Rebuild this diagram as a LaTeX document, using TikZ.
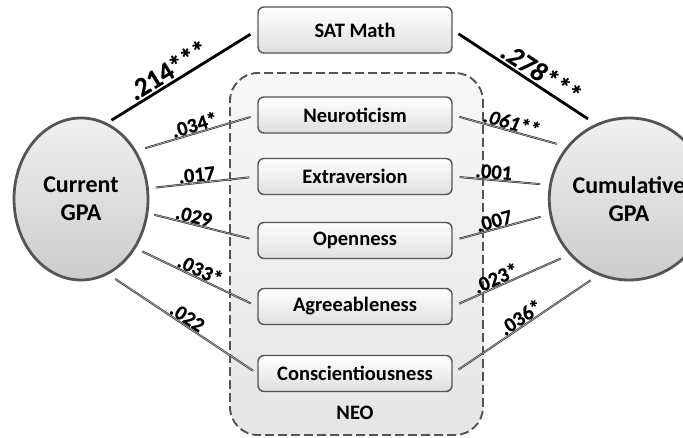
\documentclass[tikz,border=0pt]{standalone}
\usepackage{fontspec}
\setmainfont{Carlito}
\newfontfamily\labfont{Carlito}[BoldFeatures={FakeBold=0.6}, BoldItalicFeatures={FakeBold=0.6}]
\usetikzlibrary{shapes.geometric}
\definecolor{edgegray}{gray}{0.33}
\definecolor{linegray}{gray}{0.22}
\tikzset{
  varbox/.style={draw=edgegray, line width=1.4pt, rounded corners=6pt,
    top color=white, bottom color=gray!25, minimum width=194pt,
    minimum height=36pt, inner sep=0pt, font=\bfseries\fontsize{20.5}{22}\selectfont},
  gpa/.style={ellipse, draw=edgegray, line width=2.8pt, top color=gray!12,
    bottom color=gray!40, minimum width=134pt, minimum height=162pt, inner sep=0pt,
    align=center, font=\bfseries\fontsize{24}{28}\selectfont},
  neobox/.style={draw=edgegray, line width=1.9pt, dash pattern=on 9pt off 4pt,
    rounded corners=28pt, top color=gray!6, bottom color=gray!20,
    minimum width=253pt, minimum height=362pt, inner sep=0pt},
  thinpath/.style={draw=linegray, line width=0.7pt, double=gray!60, double distance=0.6pt},
  thickpath/.style={draw=black, line width=2.8pt},
  smalllab/.style={font=\labfont\bfseries\fontsize{20.5}{22}\selectfont, sloped, above, inner sep=1pt},
  biglab/.style={font=\labfont\bfseries\fontsize{27}{29}\selectfont, sloped, above, inner sep=2pt},
}
\begin{document}
\begin{tikzpicture}[x=1pt,y=-1pt]
\useasboundingbox (0,0) rectangle (683,438);
\clip (0,0) rectangle (683,438);
% NEO group
\node[neobox] (neo) at (356.5,254) {};
\node[font=\bfseries\fontsize{20.5}{22}\selectfont] (neolab) at (355,413) {NEO};
% variables
\node[varbox, minimum height=46pt] (sat) at (355,30) {SAT Math};
\node[varbox] (neu) at (355,115) {Neuroticism};
\node[varbox] (ext) at (355,176.5) {Extraversion};
\node[varbox] (ope) at (355,240.5) {Openness};
\node[varbox] (agr) at (355,306.5) {Agreeableness};
\node[varbox] (con) at (355,373.5) {Conscientiousness};
% GPA ellipses
\node[gpa] (cur) at (81,199) {Current\\GPA};
\node[gpa] (cum) at (629,199) {Cumulative\\GPA};
% thick paths
\draw[thickpath, shorten <=5pt, shorten >=8pt] (cur.71) -- node[biglab, pos=0.45] {.214***} (sat.west);
\draw[thickpath, shorten <=7pt, shorten >=9pt] (sat.east) -- node[biglab, pos=0.57] {\itshape .278***} (cum.114);
% left thin paths
\draw[thinpath, shorten <=9pt, shorten >=7pt] (cur.41) -- node[smalllab, pos=0.5] {.034*} (neu.west);
\draw[thinpath, shorten <=7pt, shorten >=8pt] (cur.9) -- node[smalllab, pos=0.45] {.017} (ext.west);
\draw[thinpath, shorten <=6pt, shorten >=8pt] (cur.-12) -- node[smalllab, pos=0.4] {.029} (ope.west);
\draw[thinpath, shorten <=7pt, shorten >=7pt] (cur.-42) -- node[smalllab, pos=0.5] {.033*} (agr.west);
\draw[thinpath, shorten <=8pt, shorten >=5pt] (cur.-70) -- node[smalllab, pos=0.5] {.022} (con.west);
% right thin paths
\draw[thinpath, shorten <=7pt, shorten >=10pt] (neu.east) -- node[smalllab, pos=0.5] {\itshape .061**} (cum.140);
\draw[thinpath, shorten <=7pt, shorten >=9pt] (ext.east) -- node[smalllab, pos=0.42] {.001} (cum.170);
\draw[thinpath, shorten <=7pt, shorten >=9pt] (ope.east) -- node[smalllab, pos=0.45] {.007} (cum.191);
\draw[thinpath, shorten <=7pt, shorten >=9pt] (agr.east) -- node[smalllab, pos=0.4] {.023*} (cum.223);
\draw[thinpath, shorten <=7pt, shorten >=9pt] (con.east) -- node[smalllab, pos=0.5] {.036*} (cum.248);
\end{tikzpicture}
\end{document}
